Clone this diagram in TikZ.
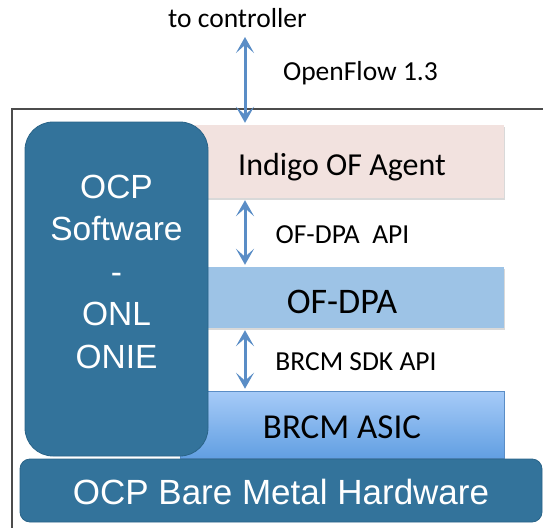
\documentclass[tikz,border=0pt]{standalone}
\usepackage{fontspec}
\setmainfont{Carlito}
\newfontfamily\arialfont{Liberation Sans}
\usepackage{tikz}
\usetikzlibrary{arrows.meta, shadows, positioning}
\definecolor{ocpblue}{HTML}{33739B}
\definecolor{ocpedge}{HTML}{2A6488}
\definecolor{agentpink}{HTML}{F2E2DF}
\definecolor{dpablue}{HTML}{9DC3E6}
\definecolor{asictop}{HTML}{A6CBF8}
\definecolor{asicbot}{HTML}{629FE2}
\definecolor{arrowblue}{HTML}{5A8DC6}
\tikzset{
  layer/.style={minimum width=324pt, text depth=0pt, inner sep=0pt,
    font=\fontsize{32}{38}\selectfont,
    drop shadow={shadow xshift=1pt, shadow yshift=-1.5pt, opacity=0.3}},
  hwbox/.style={rounded corners=#1, fill=ocpblue, draw=ocpedge, line width=0.8pt,
    text=white, font=\arialfont\fontsize{33}{42.5}\selectfont},
  link/.style={{Stealth[length=16pt,width=18pt,inset=8pt]}-{Stealth[length=16pt,width=18pt,inset=8pt]},
    line width=3pt, arrowblue, shorten <=2pt, shorten >=2pt},
  tag/.style={anchor=base, font=\fontsize{27.5}{33}\selectfont}
}
\begin{document}
\begin{tikzpicture}[x=1pt,y=-1pt]
  \useasboundingbox (0,0) rectangle (543,527);
  \clip (0,0) rectangle (543,527);
  % switch frame
  \draw [line width=1.6pt, color=black!70] (12,560) |- (580,109);
  % software stack
  \node [layer, fill=agentpink, minimum height=73pt, text height=27pt] (agent) at (342,161.5) {Indigo OF Agent};
  \node [layer, fill=dpablue, minimum height=61pt, text height=31pt, font=\fontsize{36}{40}\selectfont] (ofdpa) at (342,297.5) {OF-DPA};
  \node [layer, top color=asictop, bottom color=asicbot, draw=arrowblue, line width=0.6pt,
    minimum height=67pt, text height=27pt, font=\fontsize{35}{40}\selectfont] (asic) at (342,424.5) {BRCM ASIC};
  \node [hwbox=28pt, minimum width=183pt, minimum height=334pt] (ocp) at (116.5,289) {};
  \node [text=white, font=\arialfont\fontsize{33.5}{42.5}\selectfont, align=center] (ocptext)
    at ([yshift=17.5pt]ocp.center) {OCP\\Software\\-\\ONL\\ONIE};
  \node [hwbox=10pt, minimum width=522pt, minimum height=63pt, font=\arialfont\fontsize{35}{40}\selectfont,
    text height=28pt, text depth=0pt] (metal) at (281,490.5) {OCP Bare Metal Hardware};
  % interfaces
  \node [tag] (ctrl) at (237.5,28) {to controller};
  \coordinate (up) at (245,37);
  \draw [link, shorten <=0pt] (up) -- (agent.north -| up);
  \draw [link] (agent.south -| up) -- (ofdpa.north -| up);
  \draw [link] (ofdpa.south -| up) -- (asic.north -| up);
  \node [tag] (of13) at (360.5,80) {OpenFlow 1.3};
  \node [tag] (dpaapi) at (342.5,243) {OF-DPA\ \ API};
  \node [tag] (sdkapi) at (356,370) {BRCM SDK API};
\end{tikzpicture}
\end{document}
